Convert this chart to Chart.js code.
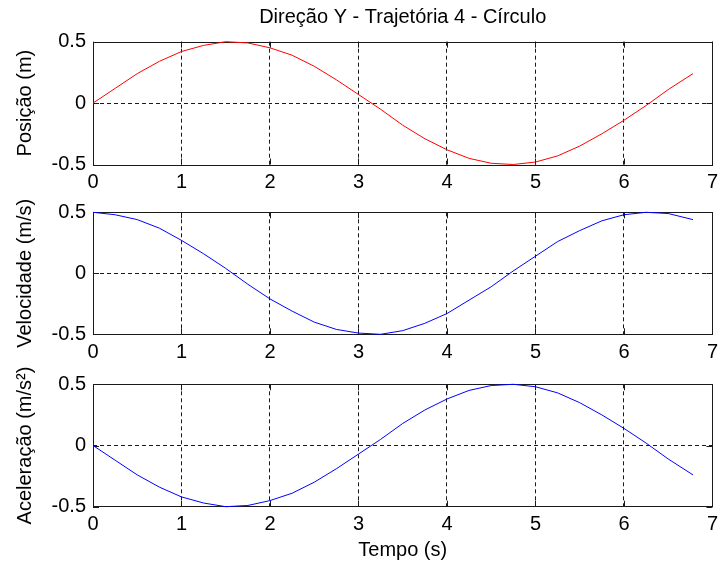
<!DOCTYPE html>
<html>
<head>
<meta charset="utf-8">
<script src="https://cdn.jsdelivr.net/npm/chart.js@4/dist/chart.umd.min.js"></script>
<style>
  body { margin: 0; background: #fff; }
  canvas { position: absolute; left: 0; }
</style>
</head>
<body>
<canvas id="graficoPosicao" width="724" height="190" style="top:0px"></canvas>
<canvas id="graficoVelocidade" width="724" height="170" style="top:190px"></canvas>
<canvas id="graficoAceleracao" width="724" height="212" style="top:360px"></canvas>
<script>
// dados
const tempo = [0, 0.25, 0.5, 0.75, 1, 1.25, 1.5, 1.75, 2, 2.25, 2.5, 2.75, 3, 3.25,
  3.5, 3.75, 4, 4.25, 4.5, 4.75, 5, 5.25, 5.5, 5.75, 6, 6.25, 6.5, 6.78];
const posicao = [0, 0.12, 0.24, 0.34, 0.42, 0.47, 0.5, 0.49, 0.45, 0.39, 0.3, 0.19, 0.07, -0.05,
  -0.18, -0.29, -0.38, -0.45, -0.49, -0.5, -0.48, -0.43, -0.35, -0.25, -0.14, -0.02, 0.11, 0.24];
const velocidade = [0.5, 0.48, 0.44, 0.37, 0.27, 0.16, 0.04, -0.09, -0.21, -0.31, -0.4, -0.46, -0.49, -0.5,
  -0.47, -0.41, -0.33, -0.22, -0.11, 0.02, 0.14, 0.26, 0.35, 0.43, 0.48, 0.5, 0.49, 0.44];
const aceleracao = [0, -0.12, -0.24, -0.34, -0.42, -0.47, -0.5, -0.49, -0.45, -0.39, -0.3, -0.19, -0.07, 0.05,
  0.18, 0.29, 0.38, 0.45, 0.49, 0.5, 0.48, 0.43, 0.35, 0.25, 0.14, 0.02, -0.11, -0.24];
const xTicks = [0, 1, 2, 3, 4, 5, 6, 7];
const yTicks = [-0.5, 0, 0.5];

const fonte = "Arial, 'Liberation Sans', sans-serif";
Chart.defaults.font.family = fonte;
Chart.defaults.font.size = 20;
Chart.defaults.color = "#000";

const corGrade = "#1a1a1a";

// caixa e marcas internas, estilo matlab
const moldura = {
  id: "moldura",
  beforeDatasetsDraw(chart) {
    const { ctx, chartArea: a, scales } = chart;
    const tam = 6;
    ctx.save();
    ctx.strokeStyle = corGrade;
    ctx.lineWidth = 1;
    ctx.setLineDash([]);
    ctx.beginPath();
    scales.x.ticks.forEach((t) => {
      const px = Math.round(scales.x.getPixelForValue(t.value)) + 0.5;
      ctx.moveTo(px, a.bottom);
      ctx.lineTo(px, a.bottom - tam);
      ctx.moveTo(px, a.top);
      ctx.lineTo(px, a.top + tam);
    });
    scales.y.ticks.forEach((t) => {
      const py = Math.round(scales.y.getPixelForValue(t.value)) + 0.5;
      ctx.moveTo(a.left, py);
      ctx.lineTo(a.left + tam, py);
      ctx.moveTo(a.right, py);
      ctx.lineTo(a.right - tam, py);
    });
    ctx.stroke();
    ctx.strokeRect(Math.round(a.left) + 0.5, Math.round(a.top) + 0.5,
      Math.round(a.right - a.left), Math.round(a.bottom - a.top));
    ctx.restore();
  },
};

function criarGrafico(id, valores, cor, tituloY, opcoes) {
  return new Chart(document.getElementById(id), {
    type: "line",
    data: {
      datasets: [
        {
          data: tempo.map((t, i) => ({ x: t, y: valores[i] })),
          borderColor: cor,
          borderWidth: 1,
          pointRadius: 0,
          tension: 0,
          clip: 2,
        },
      ],
    },
    options: {
      responsive: false,
      animation: false,
      events: [],
      layout: { padding: { top: opcoes.topo, right: 7.5, bottom: 0, left: 0 } },
      plugins: {
        legend: { display: false },
        tooltip: { enabled: false },
        title: opcoes.titulo || { display: false },
      },
      scales: {
        x: {
          type: "linear",
          min: 0,
          max: 7,
          afterBuildTicks: (s) => { s.ticks = xTicks.map((v) => ({ value: v })); },
          afterFit: (s) => { s.height = opcoes.alturaX; },
          ticks: { padding: 6, maxRotation: 0 },
          grid: {
            color: (c) => (c.tick && c.tick.value === 0 ? "rgba(0,0,0,0)" : corGrade),
            lineWidth: 1,
            drawTicks: false,
          },
          border: { display: false, dash: [4, 3] },
          title: opcoes.tituloX || { display: false },
        },
        y: {
          min: -0.5,
          max: 0.5,
          afterBuildTicks: (s) => { s.ticks = yTicks.map((v) => ({ value: v })); },
          afterFit: (s) => { s.width = 93; },
          ticks: { padding: 7 },
          grid: {
            color: (c) => (c.tick && c.tick.value === 0 ? corGrade : "rgba(0,0,0,0)"),
            lineWidth: 1,
            drawTicks: false,
          },
          border: { display: false, dash: [4, 3] },
          title: { display: true, text: tituloY, padding: { top: 13, bottom: 0 } },
        },
      },
    },
    plugins: [moldura],
  });
}

criarGrafico("graficoPosicao", posicao, "#ff0000", "Posição (m)", {
  topo: 0,
  alturaX: 25.5,
  titulo: {
    display: true,
    text: "Direção Y - Trajetória 4 - Círculo",
    fullSize: false,
    font: { size: 20, weight: "normal" },
    color: "#000",
    padding: { top: 5.5, bottom: 12.2 },
  },
});

criarGrafico("graficoVelocidade", velocidade, "#0000ff", "Velocidade (m/s)", {
  topo: 22.3,
  alturaX: 25.7,
});

criarGrafico("graficoAceleracao", aceleracao, "#0000ff", "Aceleração (m/s²)", {
  topo: 24.3,
  alturaX: 65.3,
  tituloX: { display: true, text: "Tempo (s)", padding: { top: 0, bottom: 9.4 } },
});
</script>
</body>
</html>
